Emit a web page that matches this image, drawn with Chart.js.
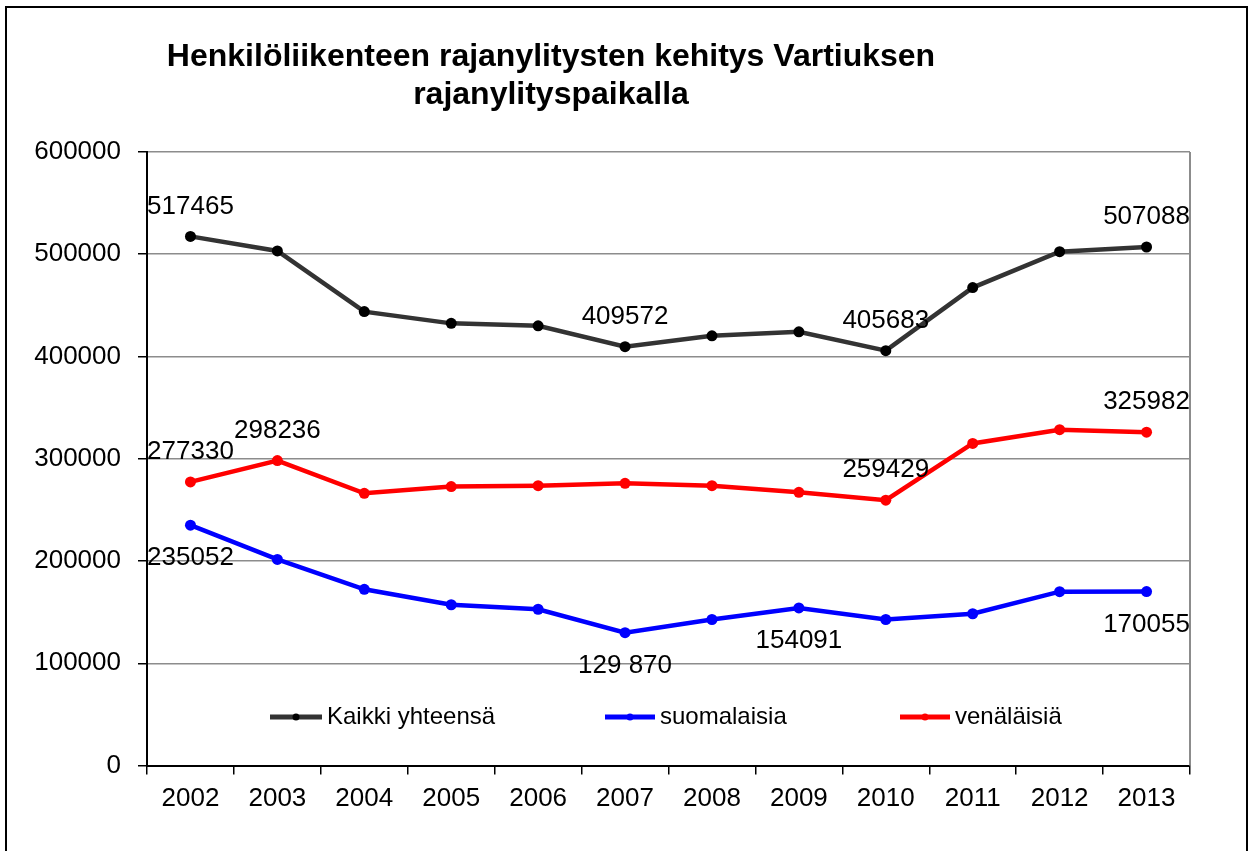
<!DOCTYPE html>
<html>
<head>
<meta charset="utf-8">
<script src="https://cdn.jsdelivr.net/npm/chart.js@4.4.1/dist/chart.umd.min.js"></script>
<style>
  html, body { margin: 0; padding: 0; background: #fff; overflow: hidden; }
  #wrap { position: relative; width: 1260px; height: 851px; }
  #frame { position: absolute; left: 5px; top: 6px; width: 1243px; height: 900px; border: 2px solid #000; box-sizing: border-box; pointer-events: none; }
  canvas { position: absolute; left: 0; top: 0; }
</style>
</head>
<body>
<div id="wrap">
  <canvas id="c" width="1260" height="851"></canvas>
  <div id="frame"></div>
</div>
<script>
const titleLines = ["Henkilöliikenteen rajanylitysten kehitys Vartiuksen", "rajanylityspaikalla"];
const years = ["2002","2003","2004","2005","2006","2007","2008","2009","2010","2011","2012","2013"];
const seriesNames = ["Kaikki yhteensä", "suomalaisia", "venäläisiä"];
const kaikki = [517465, 503200, 443900, 432400, 430000, 409572, 420200, 424100, 405683, 467400, 502500, 507088];
const suomalaisia = [235052, 201500, 172300, 157200, 152800, 129870, 142800, 154091, 142800, 148400, 170000, 170055];
const venalaisia = [277330, 298236, 266200, 272800, 273700, 276000, 273700, 267200, 259429, 315000, 328400, 325982];
const kaikkiLabels = ["517465", null, null, null, null, "409572", null, null, "405683", null, null, "507088"];
const suomalaisiaLabels = ["235052", null, null, null, null, "129 870", null, "154091", null, null, null, "170055"];
const venalaisiaLabels = ["277330", "298236", null, null, null, null, null, null, "259429", null, null, "325982"];
const yTicks = [0, 100000, 200000, 300000, 400000, 500000, 600000];

const FONT = "'Liberation Sans', Arial, sans-serif";
const colors = ["#333333", "#0000ff", "#ff0000"];
const pointColors = ["#000000", "#0000ff", "#ff0000"];
const labelSets = [kaikkiLabels, suomalaisiaLabels, venalaisiaLabels];
const labelPlacement = ["above", "below", "above"];

const decorPlugin = {
  id: 'decor',
  beforeDatasetsDraw(chart) {
    const ctx = chart.ctx, a = chart.chartArea;
    ctx.save();
    ctx.strokeStyle = '#8c8c8c';
    ctx.lineWidth = 2;
    ctx.beginPath();
    ctx.moveTo(a.right, a.top);
    ctx.lineTo(a.right, a.bottom);
    ctx.stroke();
    ctx.restore();
  },
  afterDraw(chart) {
    const ctx = chart.ctx;
    ctx.save();
    // title
    ctx.fillStyle = '#000';
    ctx.font = "bold 32px " + FONT;
    ctx.textAlign = 'center';
    ctx.textBaseline = 'middle';
    ctx.fillText(titleLines[0], 551, 57);
    ctx.fillText(titleLines[1], 551, 95);

    // data labels
    ctx.font = "26px " + FONT;
    chart.data.datasets.forEach((ds, i) => {
      const meta = chart.getDatasetMeta(i);
      labelSets[i].forEach((txt, j) => {
        if (!txt) return;
        const p = meta.data[j];
        const dy = labelPlacement[i] === 'above' ? -30 : 33;
        ctx.fillText(txt, p.x, p.y + dy);
      });
    });

    // legend
    const legendY = 717;
    const items = [
      {x0: 270, x1: 322},
      {x0: 605, x1: 655},
      {x0: 900, x1: 950}
    ];
    ctx.font = "24px " + FONT;
    ctx.textAlign = 'left';
    items.forEach((it, i) => {
      ctx.strokeStyle = colors[i];
      ctx.lineWidth = 5;
      ctx.beginPath();
      ctx.moveTo(it.x0, legendY);
      ctx.lineTo(it.x1, legendY);
      ctx.stroke();
      ctx.fillStyle = pointColors[i];
      ctx.beginPath();
      ctx.arc((it.x0 + it.x1) / 2, legendY, 3.5, 0, Math.PI * 2);
      ctx.fill();
      ctx.fillStyle = '#000';
      ctx.fillText(chart.data.datasets[i].label, it.x1 + 5, legendY);
    });
    ctx.restore();
  }
};

const makeDs = (label, data, i) => ({
  label, data,
  borderColor: colors[i],
  backgroundColor: pointColors[i],
  pointBackgroundColor: pointColors[i],
  pointBorderColor: pointColors[i],
  borderWidth: 4.5,
  pointRadius: 5.5,
  pointBorderWidth: 0,
  tension: 0,
  fill: false
});

new Chart(document.getElementById('c'), {
  type: 'line',
  data: {
    labels: years,
    datasets: [
      makeDs(seriesNames[0], kaikki, 0),
      makeDs(seriesNames[1], suomalaisia, 1),
      makeDs(seriesNames[2], venalaisia, 2)
    ]
  },
  options: {
    responsive: false,
    animation: false,
    devicePixelRatio: 1,
    layout: { padding: { left: 0, right: 70, top: 152, bottom: 0 } },
    plugins: {
      legend: { display: false },
      title: { display: false },
      tooltip: { enabled: false }
    },
    scales: {
      x: {
        offset: true,
        grid: { display: true, offset: true, drawOnChartArea: false, drawTicks: true, tickLength: 9, tickColor: '#000', lineWidth: 1.5 },
        border: { display: true, color: '#000', width: 2 },
        ticks: { color: '#000', font: { family: FONT, size: 26 }, padding: 9, maxRotation: 0, autoSkip: false },
        afterFit(s) { s.height = 85.5; }
      },
      y: {
        min: 0, max: 600000,
        afterBuildTicks(s) { s.ticks = yTicks.map(v => ({ value: v })); },
        grid: { color: '#8c8c8c', lineWidth: 1.5, tickLength: 9, tickColor: '#000' },
        border: { display: true, color: '#000', width: 2 },
        ticks: { color: '#000', font: { family: FONT, size: 26 }, padding: 17, callback: v => String(v) },
        afterFit(s) { s.width = 147; }
      }
    }
  },
  plugins: [decorPlugin]
});
</script>
</body>
</html>
